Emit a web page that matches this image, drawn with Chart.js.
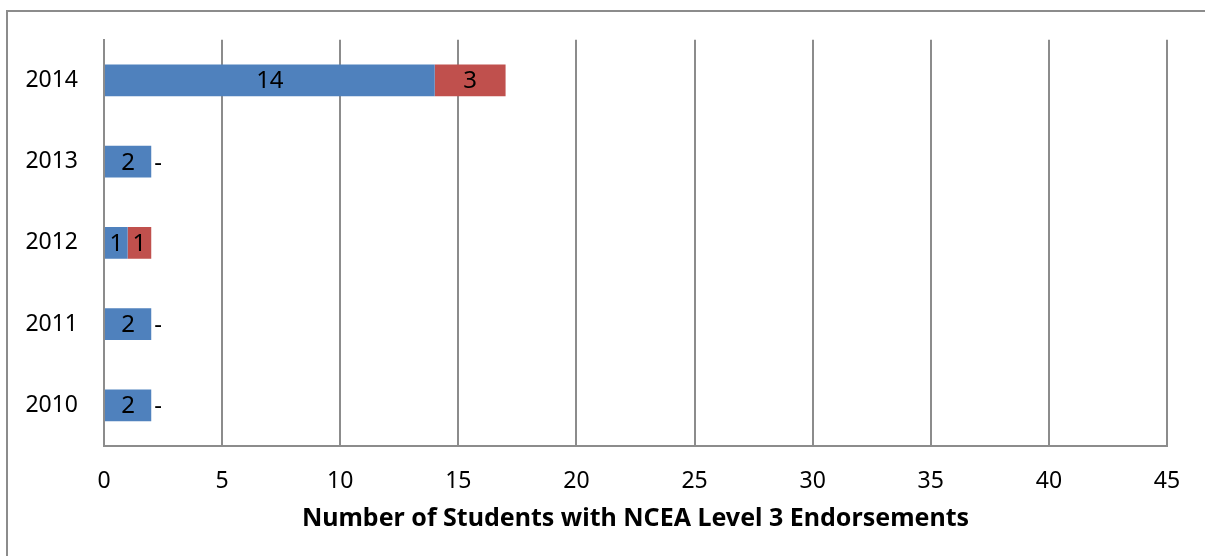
<!DOCTYPE html>
<html>
<head>
<meta charset="utf-8">
<script src="https://cdn.jsdelivr.net/npm/chart.js@4"></script>
<style>
  html, body { margin: 0; padding: 0; background: #fff; overflow: hidden; }
  #wrap { position: relative; width: 1205px; height: 556px; }
  #frame { position: absolute; left: 6px; top: 10px; width: 1300px; height: 700px; border: 2px solid #8c8c8c; }
  canvas { position: absolute; left: 0; top: 0; }
</style>
</head>
<body>
<div id="wrap">
  <div id="frame"></div>
  <canvas id="chartEndorse" width="1205" height="556"></canvas>
</div>
<script>
const years = ['2014', '2013', '2012', '2011', '2010'];
const blueValues = [14, 2, 1, 2, 2];
const redValues = [3, 0, 1, 0, 0];
const xTicks = [0, 5, 10, 15, 20, 25, 30, 35, 40, 45];
const axisTitle = 'Number of Students with NCEA Level 3 Endorsements';

const FONT = '"Noto Sans", "Open Sans", sans-serif';

// labels in the middle of each segment, "-" after the bar for zeros
const segmentLabels = {
  id: 'segmentLabels',
  afterDatasetsDraw(chart) {
    const ctx = chart.ctx;
    ctx.save();
    ctx.font = '24px ' + FONT;
    ctx.fillStyle = '#000';
    ctx.textBaseline = 'middle';
    chart.data.datasets.forEach((ds, i) => {
      chart.getDatasetMeta(i).data.forEach((bar, j) => {
        const v = ds.data[j];
        if (v === 0) {
          ctx.textAlign = 'left';
          ctx.fillText('-', bar.x + 3, bar.y + 1);
        } else {
          ctx.textAlign = 'center';
          ctx.fillText(String(v), (bar.x + bar.base) / 2, bar.y + 1);
        }
      });
    });
    ctx.restore();
  }
};

const ctxEndorse = document.getElementById('chartEndorse');
new Chart(ctxEndorse, {
  type: 'bar',
  data: {
    labels: years,
    datasets: [{
      data: blueValues,
      backgroundColor: '#4f81bd',
      borderWidth: 0
    }, {
      data: redValues,
      backgroundColor: '#c0504d',
      borderWidth: 0
    }]
  },
  options: {
    indexAxis: 'y',
    responsive: false,
    animation: false,
    categoryPercentage: 1,
    barPercentage: 0.39,
    layout: { padding: { top: 38, right: 38, left: 0, bottom: 22 } },
    plugins: { legend: { display: false }, tooltip: { enabled: false } },
    scales: {
      x: {
        stacked: true,
        min: 0,
        max: 45,
        afterBuildTicks: (s) => { s.ticks = xTicks.map(v => ({ value: v })); },
        afterFit: (s) => { s.height = 88; },
        grid: { color: '#8c8c8c', lineWidth: 2, drawTicks: false },
        border: { color: '#8c8c8c', width: 2 },
        ticks: { color: '#000', font: { family: FONT, size: 23 }, padding: 22 },
        title: {
          display: true,
          text: axisTitle,
          color: '#000',
          font: { family: FONT, size: 25, weight: 'bold' },
          padding: { top: 0, bottom: 0 }
        }
      },
      y: {
        stacked: true,
        afterFit: (s) => { s.width = 104; },
        grid: { display: false, drawTicks: false },
        border: { color: '#8c8c8c', width: 2 },
        ticks: { color: '#000', font: { family: FONT, size: 23 }, padding: 26 }
      }
    }
  },
  plugins: [segmentLabels]
});
</script>
</body>
</html>
